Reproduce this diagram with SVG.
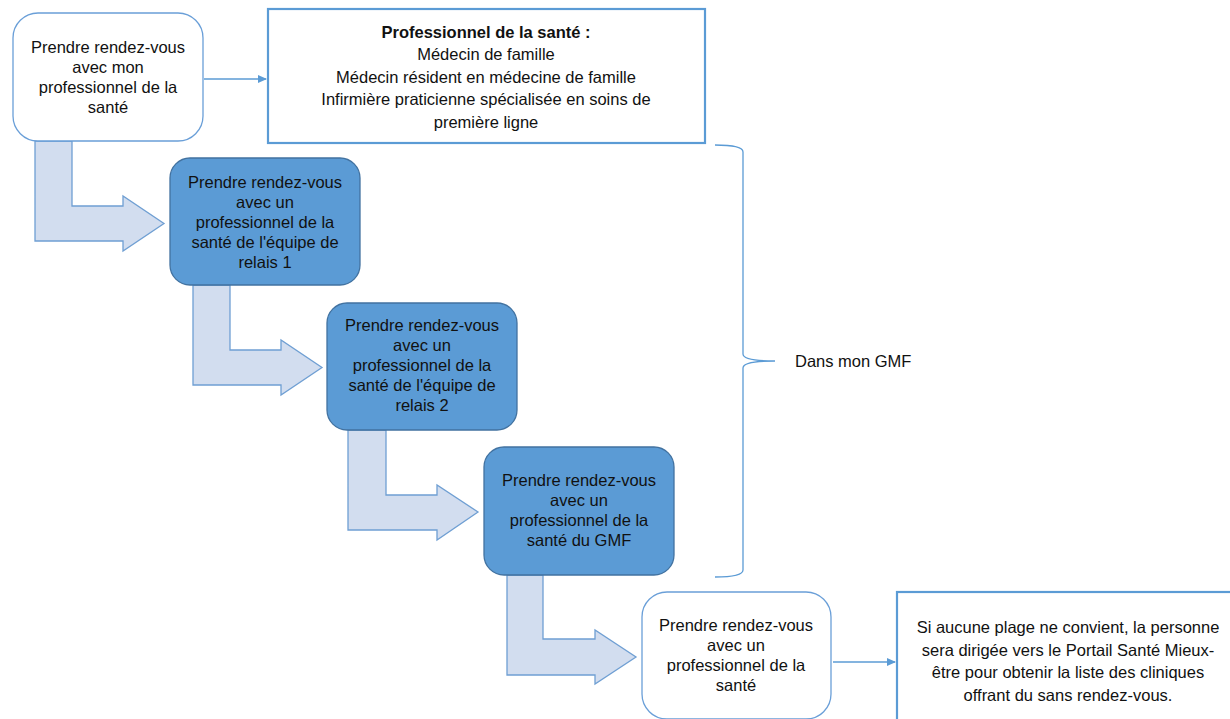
<svg xmlns="http://www.w3.org/2000/svg" width="1230" height="719" viewBox="0 0 1230 719">
<defs>
<style>
text{font-family:"Liberation Sans",Arial,sans-serif;font-size:16.5px;fill:#111111;text-anchor:middle}
.wnode{fill:#ffffff;stroke:#6a9fd8;stroke-width:1.3}
.bnode{fill:#5b9bd5;stroke:#4272a0;stroke-width:1.3}
.box{fill:#ffffff;stroke:#5b9bd5;stroke-width:2.2}
.bent{fill:#d2ddef;stroke:#6f9fd3;stroke-width:1.3}
.line{fill:none;stroke:#5b9bd5;stroke-width:1.3}
</style>
<marker id="ah" markerWidth="10" markerHeight="10" refX="8" refY="5" orient="auto" markerUnits="userSpaceOnUse">
<path d="M0,1 L9,5 L0,9 Z" fill="#5b9bd5"/>
</marker>
</defs>
<rect width="1230" height="719" fill="#ffffff"/>
<g id="connectors">
<path class="bent" d="M35,141 L72,141 L72,206 L123,206 L123,196 L164,223.5 L123,251 L123,241 L35,241 Z"/>
<path class="bent" d="M193,285 L230,285 L230,350 L281,350 L281,340 L322,367.5 L281,395 L281,385 L193,385 Z"/>
<path class="bent" d="M348,430 L386,430 L386,495 L437,495 L437,485 L478,512 L437,540 L437,530 L348,530 Z"/>
<path class="bent" d="M507,575 L543,575 L543,639 L595,639 L595,630 L636,657 L595,684 L595,675 L507,675 Z"/>
<line class="line" x1="204" y1="79" x2="266" y2="79" marker-end="url(#ah)"/>
<line class="line" x1="833" y1="662" x2="895" y2="662" marker-end="url(#ah)"/>
<path class="line" d="M715,145 Q743,145 743,152 L743,354 Q743,361 775,361 Q743,361 743,368 L743,570 Q743,577 715,577"/>
</g>
<g id="node1">
<rect class="wnode" x="13" y="13" width="190" height="128" rx="25"/>
<text x="108" y="53">Prendre rendez-vous</text>
<text x="108" y="73">avec mon</text>
<text x="108" y="93">professionnel de la</text>
<text x="108" y="113">santé</text>
</g>
<g id="node2">
<rect class="box" x="268" y="9" width="437" height="134"/>
<text x="486" y="38" font-weight="bold">Professionnel de la santé :</text>
<text x="486" y="60">Médecin de famille</text>
<text x="486" y="83">Médecin résident en médecine de famille</text>
<text x="486" y="105">Infirmière praticienne spécialisée en soins de</text>
<text x="486" y="128">première ligne</text>
</g>
<g id="node3">
<rect class="bnode" x="170" y="158" width="190" height="127" rx="20"/>
<text x="265" y="188">Prendre rendez-vous</text>
<text x="265" y="208">avec un</text>
<text x="265" y="228">professionnel de la</text>
<text x="265" y="248">santé de l'équipe de</text>
<text x="265" y="268">relais 1</text>
</g>
<g id="node4">
<rect class="bnode" x="327" y="303" width="190" height="127" rx="20"/>
<text x="422" y="331">Prendre rendez-vous</text>
<text x="422" y="351">avec un</text>
<text x="422" y="371">professionnel de la</text>
<text x="422" y="391">santé de l'équipe de</text>
<text x="422" y="411">relais 2</text>
</g>
<g id="node5">
<rect class="bnode" x="484" y="447" width="190" height="128" rx="20"/>
<text x="579" y="486">Prendre rendez-vous</text>
<text x="579" y="506">avec un</text>
<text x="579" y="526">professionnel de la</text>
<text x="579" y="546">santé du GMF</text>
</g>
<g id="node6">
<rect class="wnode" x="642" y="592" width="189" height="127" rx="25"/>
<text x="736" y="631">Prendre rendez-vous</text>
<text x="736" y="651">avec un</text>
<text x="736" y="671">professionnel de la</text>
<text x="736" y="691">santé</text>
</g>
<g id="node7">
<rect class="box" x="897" y="592" width="345" height="140"/>
<text x="1068" y="633">Si aucune plage ne convient, la personne</text>
<text x="1068" y="656">sera dirigée vers le Portail Santé Mieux-</text>
<text x="1068" y="678">être pour obtenir la liste des cliniques</text>
<text x="1068" y="701">offrant du sans rendez-vous.</text>
</g>
<g id="label">
<text x="795" y="367" style="text-anchor:start">Dans mon GMF</text>
</g>
</svg>
